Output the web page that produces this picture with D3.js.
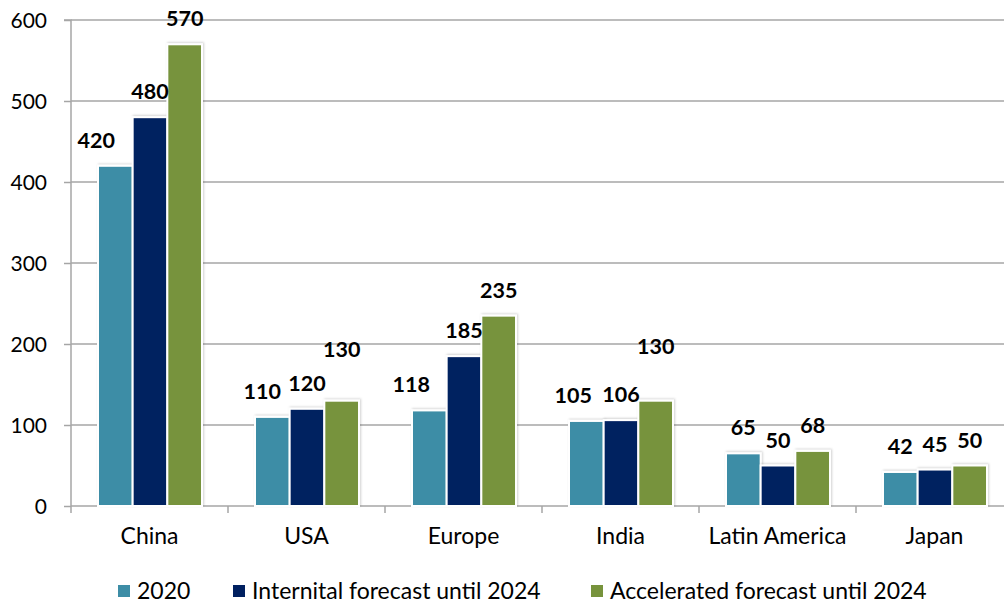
<!DOCTYPE html>
<html>
<head>
<meta charset="utf-8">
<script src="https://cdn.jsdelivr.net/npm/d3@7"></script>
<style>
  html, body { margin: 0; padding: 0; background: #fff; }
  svg { display: block; }
</style>
</head>
<body>
<svg id="chart" width="1004" height="603"></svg>
<script>
// ---- data ----
const categories = ["China", "USA", "Europe", "India", "Latin America", "Japan"];
const seriesNames = ["2020", "Internital forecast until 2024", "Accelerated forecast until 2024"];
const values2020 = [420, 110, 118, 105, 65, 42];
const valuesInternal = [480, 120, 185, 106, 50, 45];
const valuesAccelerated = [570, 130, 235, 130, 68, 50];
const yTicks = [0, 100, 200, 300, 400, 500, 600];

// ---- styling / layout ----
const colors = ["#3D8DA6", "#002060", "#77933C"];
const seriesValues = [values2020, valuesInternal, valuesAccelerated];
// manual label nudges (relative px), as in the original chart
const labelNudge = {
  "China|0": [-19, 0],
  "USA|0": [-10, 0],
  "USA|2": [0, -26],
  "Europe|0": [-18, 0],
  "India|0": [-13, 0],
  "India|2": [0, -29]
};

const svg = d3.select("#chart");
const plotLeft = 71, plotTop = 20, plotBottom = 506, bandW = 157;
const x0 = d3.scaleBand().domain(categories)
  .range([plotLeft, plotLeft + bandW * categories.length]).padding(0);
const x1 = d3.scaleBand().domain(d3.range(seriesNames.length)).range([27, 131]).padding(0);
const y = d3.scaleLinear().domain([0, 600]).range([plotBottom, plotTop]);

const defs = svg.append("defs");
const f = defs.append("filter").attr("id", "sh").attr("x", "-20%").attr("y", "-20%").attr("width", "140%").attr("height", "140%");
f.append("feDropShadow").attr("dx", 1).attr("dy", -1).attr("stdDeviation", 1.2)
  .attr("flood-color", "#000").attr("flood-opacity", 0.18);

const gridColor = "#A6A6A6";
const font = "Lato, 'Open Sans', sans-serif";

// gridlines
svg.append("g").selectAll("line").data(yTicks.filter(d => d > 0)).join("line")
  .attr("x1", plotLeft).attr("x2", 1004)
  .attr("y1", d => y(d)).attr("y2", d => y(d))
  .attr("stroke", gridColor).attr("stroke-width", 1.5);

// y axis
const yAxis = svg.append("g").attr("transform", `translate(${plotLeft},0)`)
  .call(d3.axisLeft(y).tickValues(yTicks).tickSize(7).tickPadding(17).tickFormat(d3.format("d")));
yAxis.select(".domain").attr("stroke", gridColor).attr("stroke-width", 1.5).attr("d", `M-7,${y(600)}H0V${y(0)}`);
yAxis.selectAll(".tick line").attr("stroke", gridColor).attr("stroke-width", 1.5);
yAxis.selectAll(".tick text").attr("font-family", font).attr("font-size", 21).attr("fill", "#000").attr("dy", "0.36em");

// x axis
const xAxis = svg.append("g").attr("transform", `translate(0,${plotBottom})`)
  .call(d3.axisBottom(x0).tickSize(0).tickPadding(22));
xAxis.select(".domain").attr("stroke", gridColor).attr("stroke-width", 1.5).attr("d", `M${plotLeft},0H1004`);
xAxis.selectAll(".tick text").attr("font-family", font).attr("font-size", 23).attr("fill", "#000");
// category boundary ticks
svg.append("g").selectAll("line").data(categories).join("line")
  .attr("x1", d => x0(d)).attr("x2", d => x0(d))
  .attr("y1", plotBottom).attr("y2", plotBottom + 7)
  .attr("stroke", gridColor).attr("stroke-width", 1.5);

// bars
const groups = svg.append("g").selectAll("g").data(categories).join("g")
  .attr("transform", d => `translate(${x0(d)},0)`);
groups.selectAll("rect").data((c, ci) => seriesValues.map((arr, si) => ({ c, si, v: arr[ci] })))
  .join("rect")
  .attr("x", d => x1(d.si))
  .attr("width", x1.bandwidth())
  .attr("y", d => y(d.v))
  .attr("height", d => y(0) - y(d.v))
  .attr("fill", d => colors[d.si])
  .attr("stroke", "#fff").attr("stroke-width", 2)
  .attr("filter", "url(#sh)");

// data labels
groups.selectAll("text.lbl").data((c, ci) => seriesValues.map((arr, si) => ({ c, si, v: arr[ci] })))
  .join("text").attr("class", "lbl")
  .attr("x", d => x1(d.si) + x1.bandwidth() / 2 + (labelNudge[d.c + "|" + d.si] || [0, 0])[0])
  .attr("y", d => y(d.v) - 18 + (labelNudge[d.c + "|" + d.si] || [0, 0])[1])
  .attr("text-anchor", "middle")
  .attr("font-family", font).attr("font-weight", "bold").attr("font-size", 21.5)
  .attr("fill", "#000")
  .text(d => d.v);

// legend
const legendX = [118, 233, 591];
const lg = svg.append("g").selectAll("g").data(seriesNames).join("g")
  .attr("transform", (d, i) => `translate(${legendX[i]},585)`);
lg.append("rect").attr("width", 12).attr("height", 12).attr("fill", (d, i) => colors[i]);
lg.append("text").attr("x", 19).attr("y", 13.5).attr("font-family", font).attr("font-size", 23)
  .attr("fill", "#000").text(d => d);
</script>
</body>
</html>
